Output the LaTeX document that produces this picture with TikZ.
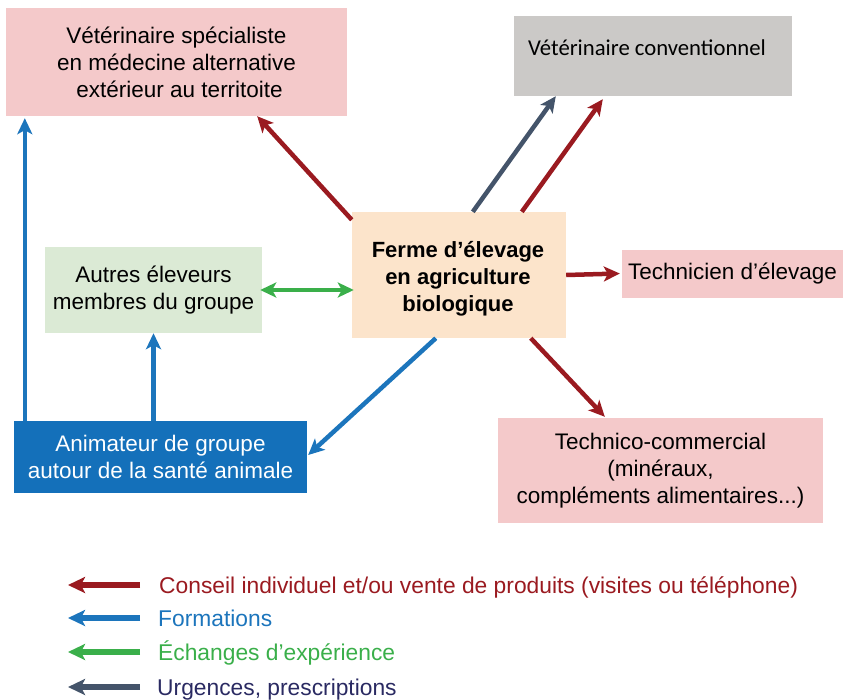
\documentclass[tikz,border=0pt]{standalone}
\usepackage{fontspec}
\setmainfont{Liberation Sans}
\newfontfamily\calibrifont{Carlito}
\usetikzlibrary{positioning, arrows.meta, calc}

\definecolor{rosepale}{HTML}{F4C9CA}
\definecolor{grisclair}{HTML}{CBC9C7}
\definecolor{peche}{HTML}{FCE4CB}
\definecolor{vertpale}{HTML}{DBEAD5}
\definecolor{bleufonce}{HTML}{1470BA}
\definecolor{rouge}{HTML}{9A1A20}
\definecolor{bleu}{HTML}{1C75BC}
\definecolor{vert}{HTML}{3AAF4A}
\definecolor{ardoise}{HTML}{44546A}
\definecolor{marine}{HTML}{2A2A62}

\begin{document}
\begin{tikzpicture}[x=1pt, y=-1pt,
	boite/.style={rectangle, inner sep=0pt, align=center, font=\fontsize{22.5}{27}\selectfont},
	fleche/.style={line width=4.5pt, -{Stealth[length=16pt, width=15pt, inset=4pt]}},
	doublefleche/.style={line width=4.5pt, {Stealth[length=16pt, width=15pt, inset=4pt]}-{Stealth[length=16pt, width=15pt, inset=4pt]}},
	legfleche/.style={line width=5.5pt, -{Stealth[length=17pt, width=16pt, inset=4pt]}},
	legtexte/.style={anchor=base west, inner sep=0pt, font=\fontsize{22.8}{27}\selectfont}]
	
	\useasboundingbox (0,0) rectangle (848,699);
	
	% --- 1. LES BOITES ---
	\node[boite, fill=rosepale, minimum width=341pt, minimum height=108pt] (vetspec) at (176.5,62) {Vétérinaire spécialiste\\ en médecine alternative\\ \ extérieur au territoite};
	
	% Vétérinaire conventionnel (texte décalé à gauche)
	\node[boite, fill=grisclair, minimum width=278pt, minimum height=80pt] (vetconv) at (653,56) {};
	\node[anchor=base west, inner sep=0pt, font=\calibrifont\fontsize{22.7}{27}\selectfont] (vetconvtxt) at (528,55) {Vétérinaire conventionnel};
	
	% Ferme au centre
	\node[boite, fill=peche, minimum width=214pt, minimum height=126pt] (ferme) at (459,275) {};
	\node[boite, font=\bfseries\fontsize{22}{27}\selectfont] (fermetxt) at (458,279) {Ferme d’élevage\\ en agriculture\\ biologique};
	
	\node[boite, fill=vertpale, minimum width=217pt, minimum height=86pt] (autres) at (153.5,290) {Autres éleveurs\\ membres du groupe};
	\node[boite, fill=rosepale, minimum width=221pt, minimum height=48pt] (technicien) at (732.5,273.5) {Technicien d’élevage};
	\node[boite, fill=bleufonce, text=white, minimum width=293pt, minimum height=72pt] (animateur) at (160.5,457) {Animateur de groupe\\ autour de la santé animale};
	\node[boite, fill=rosepale, minimum width=325pt, minimum height=105pt] (technico) at (660.5,470.5) {Technico-commercial\\ (minéraux,\\ compléments alimentaires...)};
	
	% --- 2. LES FLECHES ---
	\draw[fleche, rouge] ($(ferme.north west)+(0,8)$) -- ($(vetspec.south east)+(-90,0)$);
	\draw[fleche, ardoise] ($(ferme.north west)+(121,0)$) -- ($(vetconv.south west)+(42,0)$);
	\draw[fleche, rouge] ($(ferme.north west)+(170,0)$) -- ($(vetconv.south west)+(89,3)$);
	\draw[fleche, rouge] (ferme.east) -- ($(technicien.west)+(-2,0)$);
	\draw[doublefleche, vert] ($(autres.east)+(-2,0)$) -- ($(autres.east -| ferme.west)+(2,0)$);
	\draw[fleche, rouge] ($(ferme.south west)+(179,0)$) -- ($(technico.north west)+(107,-1)$);
	\draw[fleche, bleu] ($(ferme.south west)+(84,0)$) -- ($(animateur.east)+(1,-2)$);
	
	% Formations depuis l'animateur
	\draw[fleche, bleu] ($(animateur.north west)+(11,0)$) -- ($(animateur.north west |- vetspec.south)+(11,2)$);
	\draw[fleche, bleu] (autres.south |- animateur.north) -- (autres.south);
	
	% --- 3. LEGENDE ---
	\coordinate (queue1) at (140,585); \coordinate (pointe1) at (68,585);
	\coordinate (queue2) at (140,618); \coordinate (pointe2) at (68,618);
	\coordinate (queue3) at (140,652); \coordinate (pointe3) at (68,652);
	\coordinate (queue4) at (140,687); \coordinate (pointe4) at (68,687);
	
	\draw[legfleche, rouge] (queue1) -- (pointe1);
	\draw[legfleche, bleu] (queue2) -- (pointe2);
	\draw[legfleche, vert] (queue3) -- (pointe3);
	\draw[legfleche, ardoise] (queue4) -- (pointe4);
	
	\node[legtexte, text=rouge] (leg1) at (159,593) {Conseil individuel et/ou vente de produits (visites ou téléphone)};
	\node[legtexte, text=bleu] (leg2) at (158,626) {Formations};
	\node[legtexte, text=vert] (leg3) at (158,660) {Échanges d’expérience};
	\node[legtexte, text=marine] (leg4) at (157,695) {Urgences, prescriptions};
	
\end{tikzpicture}
\end{document}
